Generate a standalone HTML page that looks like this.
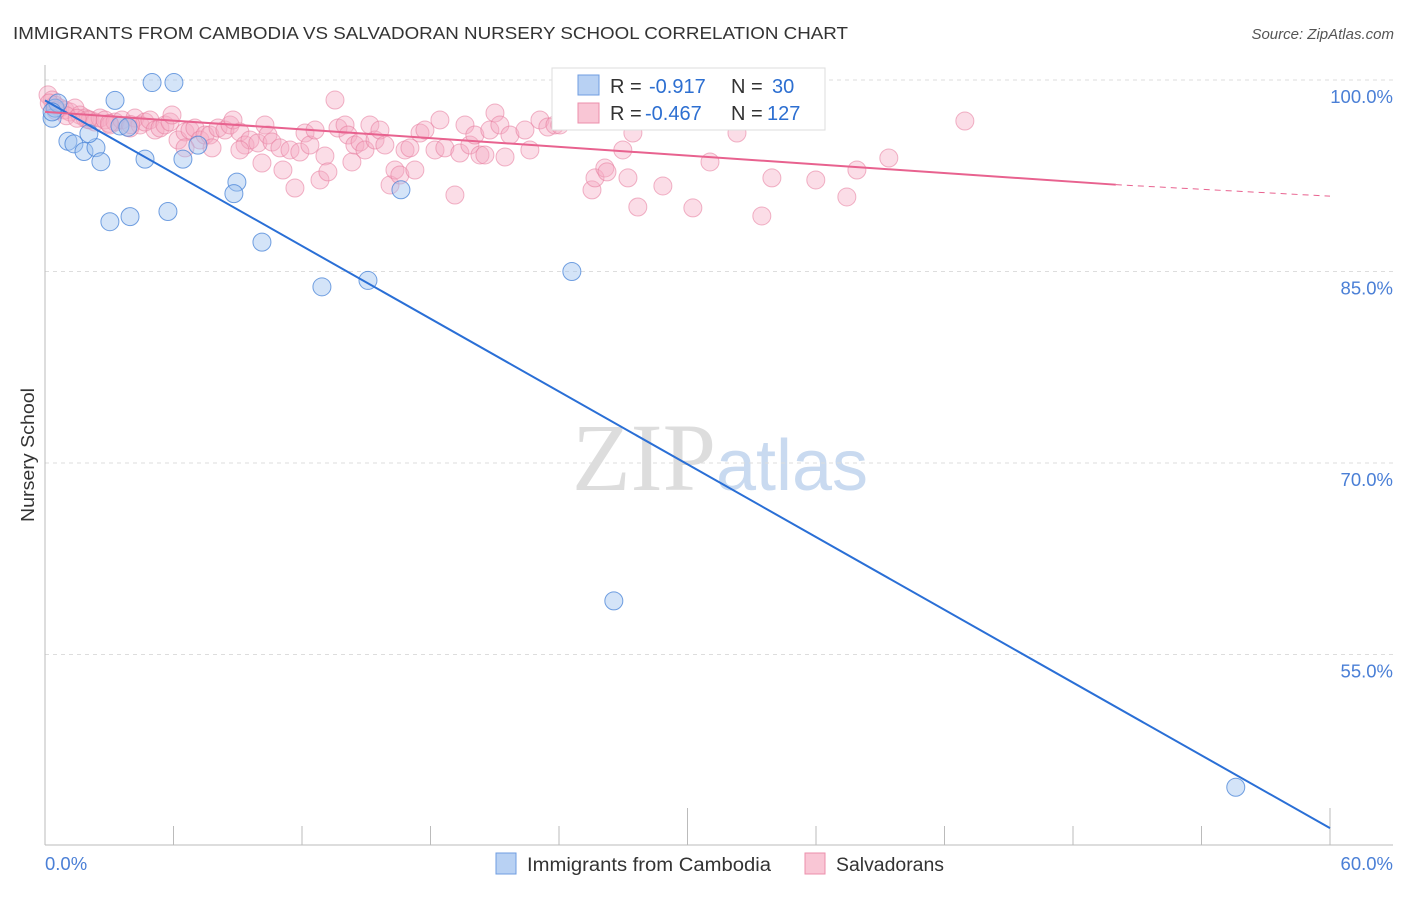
<!DOCTYPE html>
<html><head><meta charset="utf-8"><style>
body{margin:0;background:#fff;width:1406px;height:892px;overflow:hidden;font-family:"Liberation Sans",sans-serif}
</style></head><body>
<svg id="chart" width="1406" height="892" viewBox="0 0 1406 892" xmlns="http://www.w3.org/2000/svg">
<text x="13" y="39" font-size="17.5" fill="#333" textLength="835" lengthAdjust="spacingAndGlyphs">IMMIGRANTS FROM CAMBODIA VS SALVADORAN NURSERY SCHOOL CORRELATION CHART</text>
<text x="1394" y="39" font-size="15" fill="#555" font-style="italic" text-anchor="end">Source: ZipAtlas.com</text>
<text x="720" y="490" font-size="96" text-anchor="middle" font-family="Liberation Serif, serif" fill="#ddd">ZIP<tspan fill="#c9daf0" font-family="Liberation Sans, sans-serif" font-size="72">atlas</tspan></text>
<g id="grid"></g>
<g id="axes"></g>
<g id="pink"></g>
<g id="blue"></g>
<g id="lines"></g>
<text transform="translate(34,455) rotate(-90)" font-size="18" fill="#333" text-anchor="middle" textLength="134" lengthAdjust="spacingAndGlyphs">Nursery School</text>
<g>
<rect x="552" y="68" width="273" height="62" fill="#fff" stroke="#ddd"/>
<rect x="578" y="75" width="21" height="20" fill="#b8d1f3" stroke="#6f9de0"/>
<rect x="578" y="103" width="21" height="20" fill="#f9c6d5" stroke="#ec8fab"/>
<text x="610" y="93" font-size="20" fill="#333">R = <tspan fill="#2d6fd1" x="649">-0.917</tspan><tspan x="731">N = </tspan><tspan fill="#2d6fd1" x="772">30</tspan></text>
<text x="610" y="120" font-size="20" fill="#333">R = <tspan fill="#2d6fd1" x="645">-0.467</tspan><tspan x="731">N = </tspan><tspan fill="#2d6fd1" x="767">127</tspan></text>
</g>
<g>
<rect x="496" y="853" width="20" height="21" fill="#b8d1f3" stroke="#6f9de0"/>
<text x="527" y="871" font-size="19" fill="#333" textLength="244" lengthAdjust="spacingAndGlyphs">Immigrants from Cambodia</text>
<rect x="805" y="853" width="20" height="21" fill="#f9c6d5" stroke="#ec8fab"/>
<text x="836" y="871" font-size="19" fill="#333" textLength="108" lengthAdjust="spacingAndGlyphs">Salvadorans</text>
</g>
</svg>
<script>
const yTicks=[100,85,70,55];
const xTickLabels=["0.0%","60.0%"];
const blueX=[5.0,6.02,3.27,0.33,0.47,0.6,1.07,1.35,1.82,2.38,2.61,2.05,3.5,3.87,4.67,6.44,7.14,8.96,8.82,3.03,3.97,5.74,10.13,12.93,15.08,16.62,24.6,26.56,55.6,0.33];
const blueY=[99.8,99.8,98.4,97.0,97.8,98.2,95.2,95.0,94.4,94.7,93.6,95.8,96.4,96.3,93.8,93.8,94.9,92.0,91.1,88.9,89.3,89.7,87.3,83.8,84.3,91.4,85.0,59.2,44.6,97.5];
const pinkX=[0.14,0.33,0.47,0.70,0.93,1.17,1.40,1.63,1.87,2.10,2.33,2.57,2.80,3.03,3.27,3.59,3.97,4.20,4.44,4.67,4.90,5.14,5.37,5.60,5.84,5.93,6.21,6.54,6.77,7.00,7.24,7.47,7.70,7.80,8.08,8.40,8.64,8.78,9.10,9.34,9.57,9.94,10.13,10.27,10.41,10.60,10.97,11.11,11.44,11.67,11.90,12.14,12.37,12.61,12.84,13.07,13.21,13.54,13.68,14.01,14.15,14.33,14.47,14.71,14.94,15.17,15.41,15.64,15.87,16.11,16.34,16.57,16.81,17.04,17.27,17.51,17.74,18.21,18.44,18.67,19.14,19.37,19.61,19.84,20.07,20.31,20.54,20.77,21.01,21.24,21.48,21.71,22.41,22.64,23.11,23.48,23.81,24.04,24.74,25.54,25.68,26.14,26.24,26.98,27.22,27.45,27.68,28.85,30.25,31.05,32.31,33.47,33.94,35.99,37.44,37.91,39.40,42.95,9.10,6.54,1.0,2.0,3.0,4.0,0.2,0.5,1.5];
const pinkY=[98.83,98.43,98.04,97.81,97.65,97.49,97.81,97.26,97.02,96.87,96.71,97.02,96.87,96.48,96.71,96.87,96.24,97.02,96.48,96.71,96.87,96.08,96.24,96.48,96.71,97.26,95.30,95.93,96.08,96.24,95.30,95.69,95.69,94.68,96.24,96.08,96.48,96.87,95.93,94.91,95.30,95.07,93.50,96.48,95.69,95.14,94.68,92.95,94.52,91.54,94.36,95.85,94.91,96.08,92.17,94.05,92.80,98.43,96.24,96.48,95.69,93.58,94.91,95.14,94.52,96.48,95.30,96.08,94.91,91.78,92.95,92.56,94.52,94.68,92.95,95.85,96.08,94.52,96.87,94.68,90.99,94.28,96.48,94.91,95.69,94.13,94.13,96.08,97.42,96.48,93.97,95.69,96.08,94.52,96.87,96.32,96.48,96.48,100.0,91.39,92.33,93.11,92.80,94.52,92.33,95.85,90.05,91.70,89.98,93.58,95.85,89.35,92.33,92.17,90.84,92.95,93.89,96.79,94.52,94.68,97.2,96.9,96.6,96.5,98.2,97.6,97.0];
const NS="http://www.w3.org/2000/svg";
const X0=45,X1=1330,Y100=80,PX15=191.5;
function xs(v){return X0+v*(X1-X0)/60;}
function ys(v){return Y100+(100-v)*PX15/15;}
function mk(tag,attrs,parent){const e=document.createElementNS(NS,tag);for(const k in attrs)e.setAttribute(k,attrs[k]);parent.appendChild(e);return e;}
const grid=document.getElementById('grid'),axes=document.getElementById('axes');
yTicks.forEach(t=>{
 const l=mk('line',{x1:45,x2:1393,y1:ys(t),y2:ys(t),stroke:'#ddd','stroke-dasharray':'4,4'},grid);
 
 
 const tx=mk('text',{x:1393,y:ys(t)+23,'font-size':18.5,fill:'#4a7fd6','text-anchor':'end'},axes);
 tx.textContent=t.toFixed(1)+'%';
 
 
});
mk('line',{x1:45,x2:45,y1:65,y2:845,stroke:'#bbb'},axes);
mk('line',{x1:45,x2:1393,y1:845,y2:845,stroke:'#bbb'},axes);
for(let i=0;i<=10;i++){
 const v=i*6,x=xs(v),tall=(i==0||i==5||i==10);
 const t=mk('line',{x1:x,x2:x,y1:tall?808:826,y2:845,stroke:'#bbb'},axes);
 
 
}
const xl0=mk('text',{x:45,y:870,'font-size':18.5,fill:'#4a7fd6'},axes);xl0.textContent=xTickLabels[0];


const xl1=mk('text',{x:1393,y:870,'font-size':18.5,fill:'#4a7fd6','text-anchor':'end'},axes);xl1.textContent=xTickLabels[1];


const pg=document.getElementById('pink');
pinkX.forEach((v,i)=>{const c=mk('circle',{cx:xs(v),cy:ys(pinkY[i]),r:9,fill:'rgba(246,170,195,0.4)',stroke:'rgba(230,120,155,0.55)','stroke-width':1},pg);
 
 });
const bg=document.getElementById('blue');
blueX.forEach((v,i)=>{const c=mk('circle',{cx:xs(v),cy:ys(blueY[i]),r:9,fill:'rgba(160,195,240,0.45)',stroke:'rgba(70,130,215,0.75)','stroke-width':1},bg);
 
 });
const lg=document.getElementById('lines');
const bl=mk('line',{x1:xs(0),y1:ys(98.4),x2:xs(60),y2:ys(41.4),stroke:'#2a6fd6','stroke-width':2},lg);


const pl=mk('line',{x1:xs(0),y1:ys(97.5),x2:xs(50),y2:ys(91.8),stroke:'#e8628f','stroke-width':2},lg);


const pd=mk('line',{x1:xs(50),y1:ys(91.8),x2:xs(60),y2:ys(90.9),stroke:'#e8628f','stroke-width':1,'stroke-dasharray':'6,5'},lg);


</script>
</body></html>
